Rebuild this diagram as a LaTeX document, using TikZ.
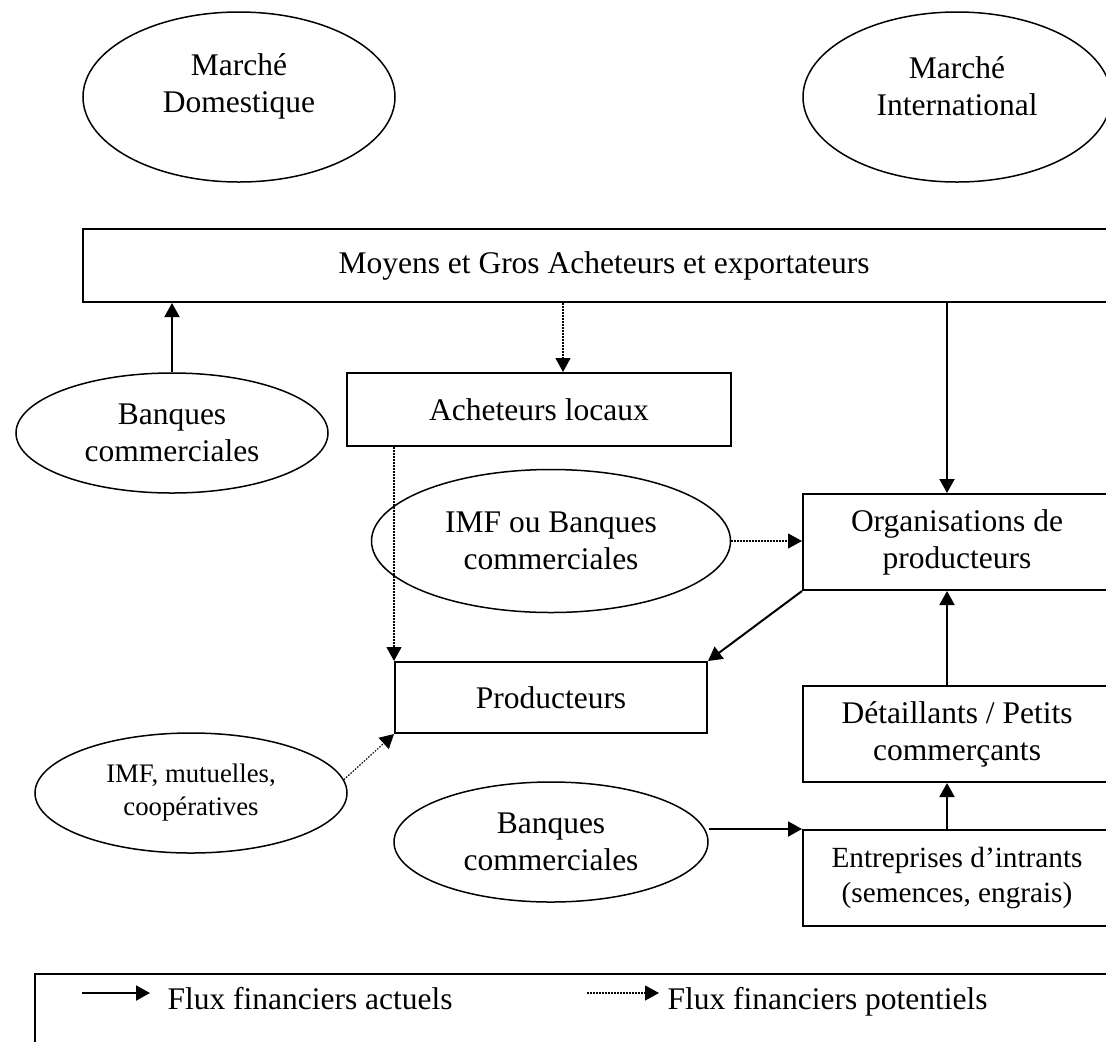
\documentclass[tikz,border=0pt]{standalone}
\usepackage{fontspec}
\setmainfont{Liberation Serif}
\usetikzlibrary{shapes.geometric, positioning, arrows.meta}

\newcommand{\main}{\fontsize{12.6}{14.8}\selectfont}
\newcommand{\petit}{\fontsize{10.7}{13.2}\selectfont}
\newcommand{\moyen}{\fontsize{11.7}{14}\selectfont}

\tikzset{
	box/.style={draw, line width=0.8pt, inner sep=0pt, align=center, font=\main},
	oval/.style={draw, ellipse, line width=0.6pt, inner sep=0pt, align=center, font=\main},
	flux/.style={-{Triangle[length=5.6pt,width=6pt]}, line width=0.8pt},
	pot/.style={-{Triangle[length=5.6pt,width=6pt]}, line width=0.45pt, dash pattern=on 0.6pt off 0.6pt},
}

\begin{document}
\begin{tikzpicture}[x=0.4pt, y=-0.4pt]
	\useasboundingbox (0,0) rectangle (1106,1041);
	\clip (0,0) rectangle (1106,1041);

	% marches
	\node[oval, minimum width=124.8pt, minimum height=68pt,
		label={[name=domtxt, align=center, font=\main, yshift=4.4pt]center:Marché\\Domestique}] (dom) at (239,97) {};
	\node[oval, minimum width=123.2pt, minimum height=68pt,
		label={[name=intltxt, align=center, font=\main, yshift=4.4pt]center:Marché\\International}] (intl) at (957,97) {};

	\node[box, minimum width=416.8pt, minimum height=29.2pt] (gros) at (604,265.5) {Moyens et Gros Acheteurs et exportateurs};

	\node[oval, minimum width=124.8pt, minimum height=48pt] (banq1) at (172,433) {Banques\\commerciales};
	\node[box, minimum width=153.6pt, minimum height=29.2pt] (loc) at (539,409.5) {Acheteurs locaux};
	\node[oval, minimum width=143.6pt, minimum height=57.2pt] (imf) at (551,541) {IMF ou Banques\\commerciales};
	\node[box, minimum width=123.2pt, minimum height=38.4pt] (org) at (957,542) {Organisations de\\producteurs};
	\node[box, minimum width=124.8pt, minimum height=28.4pt] (prod) at (551,697.5) {Producteurs};
	\node[oval, minimum width=124.8pt, minimum height=48pt, font=\petit] (mut) at (191,793) {IMF, mutuelles,\\coopératives};
	\node[box, minimum width=123.2pt, minimum height=38.4pt] (det) at (957,734) {Détaillants / Petits\\commerçants};
	\node[oval, minimum width=125.6pt, minimum height=48pt] (banq2) at (551,842) {Banques\\commerciales};
	\node[box, minimum width=123.2pt, minimum height=38.4pt, font=\moyen] (intr) at (957,878) {Entreprises d’intrants\\(semences, engrais)};

	\coordinate (locin) at ([xshift=9.6pt]loc.north);
	\coordinate (orgin) at ([xshift=-4pt]org.north);
	\coordinate (detin) at ([xshift=-4pt]det.north);
	\coordinate (intrin) at ([xshift=-4pt]intr.north);

	% flux
	\draw[flux] (banq1.north) -- (banq1.north |- gros.south);
	\draw[pot] (locin |- gros.south) -- (locin);
	\draw[flux] (orgin |- gros.south) -- (orgin);
	\draw[pot] (prod.north west |- loc.south) -- (prod.north west);
	\draw[pot] (imf.east) -- (imf.east -| org.west);
	\draw[flux] (org.south west) -- (prod.north east);
	\draw[flux] (detin) -- (detin |- org.south);
	\draw[flux] (intrin) -- (intrin |- det.south);
	\draw[flux] (intr.north west -| banq2.east) -- (intr.north west);
	\draw[pot] (mut.5) -- (prod.south west);

	% legende
	\node[draw, line width=0.8pt, anchor=north west, minimum width=434.4pt, minimum height=40pt] (leg) at (34,973) {};
	\coordinate (la1) at (82,993);
	\coordinate (la2) at (150,993);
	\coordinate (lb1) at (587,993);
	\coordinate (lb2) at (659,993);
	\draw[flux] (la1) -- (la2);
	\draw[pot] (lb1) -- (lb2);
	\node[anchor=base west, inner sep=0pt, font=\main] (txta) at (167,1009) {Flux financiers actuels};
	\node[anchor=base west, inner sep=0pt, font=\main] (txtb) at (667,1009) {Flux financiers potentiels};
\end{tikzpicture}
\end{document}
